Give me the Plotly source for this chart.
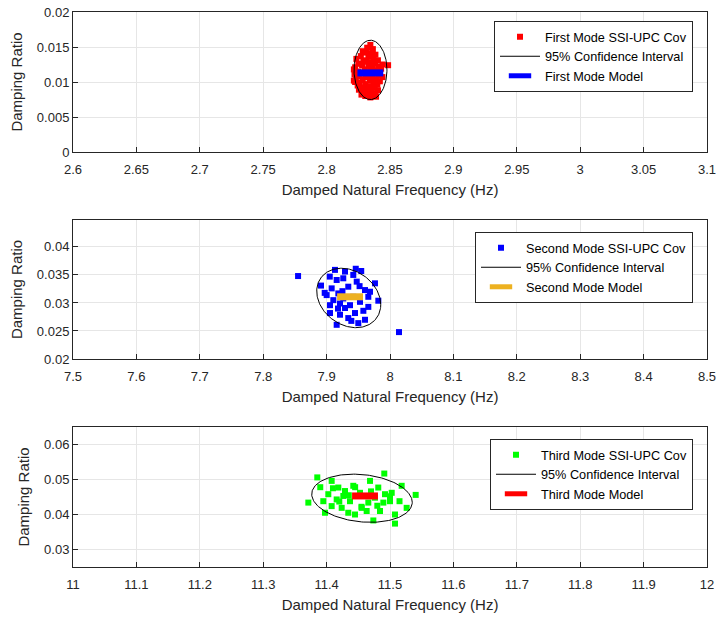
import numpy as np
import plotly.graph_objects as go

# ---------------- data ----------------
mode1_freq = [2.8345, 2.8320, 2.8365, 2.8285, 2.8310, 2.8350, 2.8385, 2.8270, 2.8330, 2.8370,
              2.8235, 2.8290, 2.8405, 2.8315, 2.8350, 2.8385, 2.8250, 2.8440, 2.8280, 2.8330,
              2.8410, 2.8225, 2.8365, 2.8430, 2.8215, 2.8300, 2.8345, 2.8395, 2.8250, 2.8320,
              2.8420, 2.8275, 2.8370, 2.8220, 2.8330, 2.8410, 2.8255, 2.8305, 2.8360, 2.8440,
              2.8230, 2.8395, 2.8285, 2.8340, 2.8225, 2.8420, 2.8260, 2.8370, 2.8305, 2.8400,
              2.8245, 2.8345, 2.8280, 2.8380, 2.8320, 2.8255, 2.8405, 2.8355, 2.8295, 2.8385,
              2.8330, 2.8275, 2.8360, 2.8390, 2.8305, 2.8345, 2.8485, 2.8215]
mode1_damp = [0.0153, 0.0149, 0.0147, 0.0144, 0.0142, 0.0141, 0.0139, 0.0137, 0.0136, 0.0134,
              0.0133, 0.0131, 0.0131, 0.0129, 0.0128, 0.0127, 0.0126, 0.0125, 0.0124, 0.0123,
              0.0122, 0.0121, 0.0120, 0.0119, 0.0118, 0.0118, 0.0117, 0.0116, 0.0115, 0.0114,
              0.0114, 0.0112, 0.0112, 0.0111, 0.0110, 0.0110, 0.0108, 0.0107, 0.0106, 0.0107,
              0.0105, 0.0104, 0.0103, 0.0102, 0.0100, 0.0101, 0.0099, 0.0099, 0.0097, 0.0096,
              0.0095, 0.0094, 0.0092, 0.0092, 0.0090, 0.0089, 0.0088, 0.0087, 0.0086, 0.0084,
              0.0083, 0.0082, 0.0081, 0.0079, 0.0080, 0.0078, 0.0124, 0.0102]

mode2_freq = [7.855, 7.9132, 7.929, 7.9546, 7.9421, 7.9159, 7.9763, 7.8912, 7.9475, 7.9263,
              7.9342, 7.908, 7.9606, 7.9185, 7.9001, 7.9658, 7.9816, 7.9106, 7.9527, 7.9211,
              7.9369, 7.9658, 7.929, 7.9054, 7.9448, 7.9211, 7.9606, 7.95, 7.9159, 7.9342,
              8.0142, 7.9685, 7.9421, 7.9263, 7.9054, 7.905, 7.946, 7.897, 7.958, 7.939,
              7.925, 7.952, 7.918]
mode2_damp = [0.0348, 0.0359, 0.0356, 0.0357, 0.0350, 0.0341, 0.0335, 0.0331, 0.0338, 0.0344,
              0.0329, 0.0326, 0.0323, 0.0317, 0.0314, 0.0311, 0.0304, 0.0305, 0.0302, 0.0299,
              0.0296, 0.0293, 0.0291, 0.0282, 0.0282, 0.0279, 0.0270, 0.0264, 0.0261, 0.0273,
              0.0248, 0.0320, 0.0311, 0.0308, 0.0296, 0.0347, 0.0361, 0.0318, 0.0286, 0.0268,
              0.0321, 0.0330, 0.0290]

mode3_freq = [11.3853, 11.491, 11.3712, 11.5405, 11.5079, 11.4737, 11.5184, 11.3975, 11.408, 11.4185,
              11.4421, 11.4685, 11.4815, 11.5027, 11.4027, 11.4264, 11.4369, 11.4763, 11.4895, 11.5,
              11.408, 11.4238, 11.4554, 11.4842, 11.4342, 11.4448, 11.4632, 11.5263, 11.5079, 11.4159,
              11.4527, 11.4658, 11.429, 11.3948, 11.4921, 11.41, 11.445, 11.47, 11.435, 11.455,
              11.48, 11.42, 11.50, 11.39, 11.515]
mode3_damp = [0.0506, 0.0517, 0.0434, 0.0456, 0.0374, 0.0383, 0.0482, 0.0405, 0.0496, 0.0477,
              0.0482, 0.0496, 0.0477, 0.0462, 0.0458, 0.0453, 0.0438, 0.0448, 0.0434, 0.0438,
              0.0424, 0.0419, 0.0419, 0.0410, 0.0405, 0.0400, 0.0410, 0.0419, 0.0400, 0.0443,
              0.0462, 0.0434, 0.0467, 0.0438, 0.0458, 0.0475, 0.0478, 0.0466, 0.0455, 0.0422,
              0.0425, 0.0437, 0.0452, 0.0478, 0.0438]

# model (center) values
model_freq = [2.8345, 7.937, 11.4606]
model_damp = [0.0113, 0.0311, 0.0453]

# 95% confidence ellipses: center, half-width (Hz), half-height, phase (tilt)
ell_cf = [2.8346, 7.9349, 11.4558]
ell_cd = [0.01173, 0.03089, 0.04465]
ell_a = [0.0130, 0.0505, 0.0793]
ell_b = [0.00424, 0.0053, 0.00688]
ell_phi = [0.0, -0.23, -0.17]

names_pts = ["First Mode SSI-UPC Cov", "Second Mode SSI-UPC Cov", "Third Mode SSI-UPC Cov"]
names_mod = ["First Mode Model", "Second Mode Model", "Third Mode Model"]
ci_name = "95% Confidence Interval"

pt_colors = ["#FF0000", "#0000FF", "#00FF00"]
mod_colors = ["#0000FF", "#EDB120", "#FF0000"]

x_ranges = [[2.6, 3.1], [7.5, 8.5], [11, 12]]
y_ranges = [[0, 0.02], [0.02, 0.0448], [0.025, 0.065]]
x_ticks = [[2.6, 2.65, 2.7, 2.75, 2.8, 2.85, 2.9, 2.95, 3.0, 3.05, 3.1],
           [7.5, 7.6, 7.7, 7.8, 7.9, 8.0, 8.1, 8.2, 8.3, 8.4, 8.5],
           [11, 11.1, 11.2, 11.3, 11.4, 11.5, 11.6, 11.7, 11.8, 11.9, 12]]
x_ticktext = [["2.6", "2.65", "2.7", "2.75", "2.8", "2.85", "2.9", "2.95", "3", "3.05", "3.1"],
              ["7.5", "7.6", "7.7", "7.8", "7.9", "8", "8.1", "8.2", "8.3", "8.4", "8.5"],
              ["11", "11.1", "11.2", "11.3", "11.4", "11.5", "11.6", "11.7", "11.8", "11.9", "12"]]
y_ticks = [[0, 0.005, 0.01, 0.015, 0.02],
           [0.02, 0.025, 0.03, 0.035, 0.04],
           [0.03, 0.04, 0.05, 0.06]]
y_ticktext = [["0", "0.005", "0.01", "0.015", "0.02"],
              ["0.02", "0.025", "0.03", "0.035", "0.04"],
              ["0.03", "0.04", "0.05", "0.06"]]

xlabel = "Damped Natural Frequency (Hz)"
ylabel = "Damping Ratio"

# ---------------- figure ----------------
W, H = 719, 619
ml, mr, mt, mb = 73, 12, 12, 52
ph = H - mt - mb
def py(pix):
    return (H - mb - pix) / ph

domains = [[py(152), 1.0], [py(359), py(220)], [0.0, py(427)]]
legend_tops = [py(21), py(232), py(439)]

fig = go.Figure()
pts_f = [mode1_freq, mode2_freq, mode3_freq]
pts_d = [mode1_damp, mode2_damp, mode3_damp]
t = np.linspace(0, 2 * np.pi, 200)
legkeys = ["legend", "legend2", "legend3"]

for i in range(3):
    xa = "x" if i == 0 else f"x{i+1}"
    ya = "y" if i == 0 else f"y{i+1}"
    fig.add_trace(go.Scatter(x=pts_f[i], y=pts_d[i], mode="markers", name=names_pts[i],
                             marker=dict(symbol="square", size=6, color=pt_colors[i], line=dict(width=0)),
                             xaxis=xa, yaxis=ya, legend=legkeys[i]))
    ex = ell_cf[i] + ell_a[i] * np.cos(t)
    ey = ell_cd[i] + ell_b[i] * np.sin(t + ell_phi[i])
    fig.add_trace(go.Scatter(x=ex, y=ey, mode="lines", name=ci_name,
                             line=dict(color="#000000", width=1),
                             xaxis=xa, yaxis=ya, legend=legkeys[i]))
    fig.add_trace(go.Scatter(x=[model_freq[i]], y=[model_damp[i]], mode="markers", name=names_mod[i],
                             marker=dict(symbol="line-ew", size=18.5, color=mod_colors[i],
                                         line=dict(width=7, color=mod_colors[i])),
                             xaxis=xa, yaxis=ya, legend=legkeys[i]))

axis_common = dict(showline=True, linecolor="#262626", linewidth=1, mirror=True,
                   ticks="inside", ticklen=5, tickcolor="#262626", automargin=False,
                   showgrid=True, gridcolor="#E6E6E6", gridwidth=1, zeroline=False,
                   tickfont=dict(family="Liberation Sans, Arial", size=13, color="#262626"))

layout = dict(width=W, height=H, margin=dict(l=ml, r=mr, t=mt, b=mb, autoexpand=False),
              paper_bgcolor="white", plot_bgcolor="white", showlegend=True,
              font=dict(family="Liberation Sans, Arial", color="#262626"))

for i in range(3):
    xk = "xaxis" if i == 0 else f"xaxis{i+1}"
    yk = "yaxis" if i == 0 else f"yaxis{i+1}"
    xa = "x" if i == 0 else f"x{i+1}"
    ya = "y" if i == 0 else f"y{i+1}"
    layout[xk] = dict(axis_common, range=x_ranges[i], tickmode="array", tickvals=x_ticks[i],
                      ticktext=x_ticktext[i], anchor=ya, domain=[0, 1], ticklabelstandoff=5,
                      title=dict(text=xlabel, font=dict(size=15, color="#262626"), standoff=8))
    layout[yk] = dict(axis_common, range=y_ranges[i], tickmode="array", tickvals=y_ticks[i],
                      ticktext=y_ticktext[i], anchor=xa, domain=domains[i],
                      title=dict(text=ylabel, font=dict(size=15, color="#262626"), standoff=10))
    layout[legkeys[i]] = dict(x=(693 - ml) / (W - ml - mr), xanchor="right",
                              y=legend_tops[i], yanchor="top",
                              bgcolor="white", bordercolor="#262626", borderwidth=1,
                              font=dict(family="Liberation Sans, Arial", size=12.7, color="#000000"),
                              tracegroupgap=0, itemwidth=40)

fig.update_layout(**layout)
fig.write_html("out.html")
